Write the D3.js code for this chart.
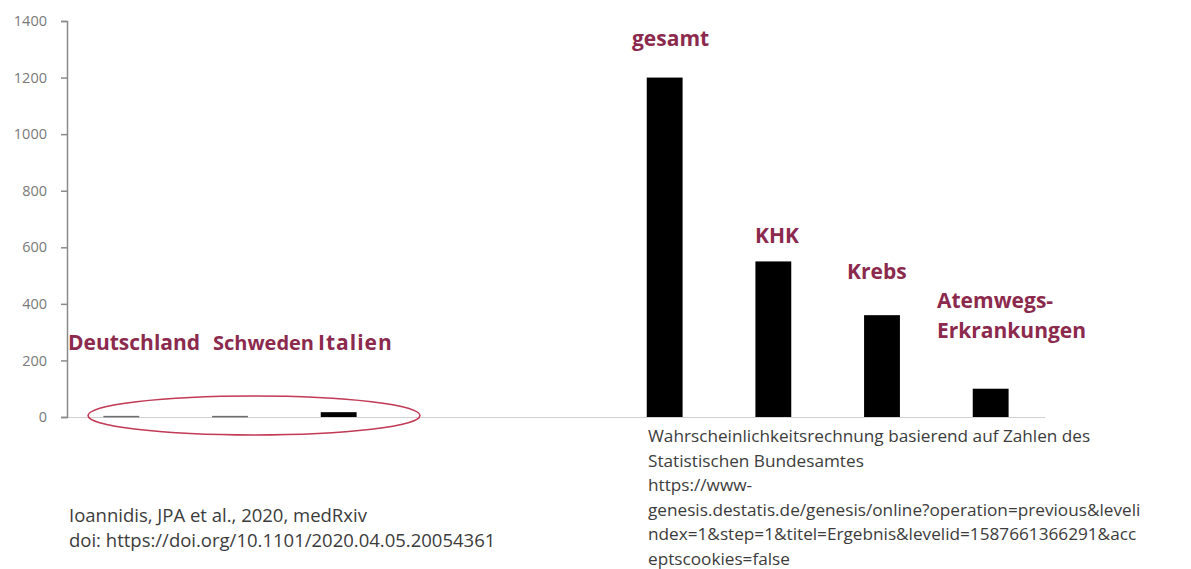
<!DOCTYPE html>
<html>
<head>
<meta charset="utf-8">
<script src="https://cdn.jsdelivr.net/npm/d3@7"></script>
<style>
  html, body { margin: 0; padding: 0; background: #fff; }
  svg { display: block; }
</style>
</head>
<body>
<svg id="chart" width="1191" height="569"></svg>
<script>
// ---- data ----
const categories = ["Deutschland", "Schweden", "Italien", "gap1", "gap2", "gesamt", "KHK", "Krebs", "Atemwegs-Erkrankungen"];
const values = [4, 4, 17, null, null, 1200, 550, 360, 100];
const barColors = ["#6e6e6e", "#6e6e6e", "#000", null, null, "#000", "#000", "#000", "#000"];
const yTicks = [0, 200, 400, 600, 800, 1000, 1200, 1400];
const labelLines = [["Deutschland"], ["Schweden"], ["Italien"], [], [], ["gesamt"], ["KHK"], ["Krebs"], ["Atemwegs-", "Erkrankungen"]];
const sourceLeft = ["Ioannidis, JPA et al., 2020, medRxiv", "doi: https://doi.org/10.1101/2020.04.05.20054361"];
const sourceRight = [
  "Wahrscheinlichkeitsrechnung basierend auf Zahlen des",
  "Statistischen Bundesamtes",
  "https://www-",
  "genesis.destatis.de/genesis/online?operation=previous&leveli",
  "ndex=1&step=1&titel=Ergebnis&levelid=1587661366291&acc",
  "eptscookies=false"
];

// ---- layout ----
const svg = d3.select("#chart");
const x0 = 67, x1 = 1045, yTop = 21, yBase = 417;
const x = d3.scaleBand().domain(categories).range([x0, x1]).paddingInner(0.67).paddingOuter(0.335);
const y = d3.scaleLinear().domain([0, 1400]).range([yBase, yTop]);
const labelColor = "#8c2a4e";

// x baseline
svg.append("line").attr("x1", x0).attr("x2", x1).attr("y1", yBase + 0.5).attr("y2", yBase + 0.5)
  .attr("stroke", "#d0d0d0").attr("stroke-width", 1);

// y axis
const yAxis = d3.axisLeft(y).tickValues(yTicks).tickSize(6).tickPadding(14).tickFormat(d3.format("d"));
const gy = svg.append("g").attr("transform", `translate(${x0},0)`).call(yAxis);
gy.select(".domain").attr("stroke", "#8a8a8a").attr("stroke-width", 1.5);
gy.selectAll(".tick line").attr("stroke", "#8a8a8a").attr("stroke-width", 1.5);
gy.selectAll(".tick text").attr("fill", "#7a7a7a").style("font-family", "'Open Sans', sans-serif").style("font-size", "14.5px");

// bars
const data = categories.map((c, i) => ({ c, v: values[i], col: barColors[i], lines: labelLines[i] }));
svg.append("g").selectAll("rect").data(data.filter(d => d.v != null)).join("rect")
  .attr("x", d => x(d.c)).attr("width", x.bandwidth())
  .attr("y", d => y(d.v)).attr("height", d => Math.max(1.5, y(0) - y(d.v)))
  .attr("fill", d => d.col);

// category labels: [x, y, font-size, letter-spacing]
const labelPos = {
  "Deutschland": [68, 350, 21, 0],
  "Schweden": [213, 350, 20, 0],
  "Italien": [318, 350, 21, 1],
  "gesamt": [632, 46, 21, 0],
  "KHK": [755, 243, 21, 0],
  "Krebs": [847, 279, 21, 0],
  "Atemwegs-Erkrankungen": [937, 308, 21, 0]
};
data.filter(d => d.lines.length).forEach(d => {
  const [lx, ly, fs, ls] = labelPos[d.c];
  const t = svg.append("text").attr("x", lx).attr("y", ly)
    .attr("fill", labelColor).style("font-family", "'Open Sans', sans-serif")
    .style("font-weight", "700").style("font-size", fs + "px").style("letter-spacing", ls + "px");
  d.lines.forEach((ln, i) => t.append("tspan").attr("x", lx).attr("dy", i === 0 ? 0 : 30).text(ln));
});

// ellipse around small bars
svg.append("ellipse").attr("cx", 254).attr("cy", 415.5).attr("rx", 166).attr("ry", 19.5)
  .attr("fill", "none").attr("stroke", "#c23a55").attr("stroke-width", 1.6);

// sources
const srcStyle = (t, fs) => t.attr("fill", "#3c3c3c").style("font-family", "'Open Sans', sans-serif").style("font-size", fs);
sourceLeft.forEach((s, i) => srcStyle(svg.append("text").attr("x", 69).attr("y", 522 + i * 25), "18.5px").text(s));
sourceRight.forEach((s, i) => srcStyle(svg.append("text").attr("x", 648).attr("y", 442 + i * 24.6), "17.2px").text(s));
</script>
</body>
</html>
